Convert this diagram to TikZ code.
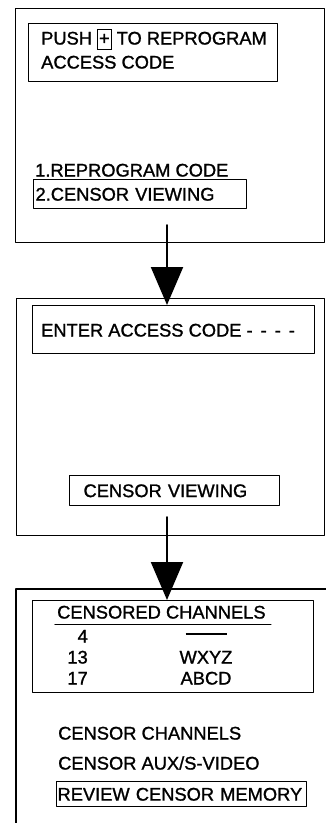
\documentclass[tikz,border=0pt]{standalone}
\usepackage{fontspec}
\setmainfont{Liberation Sans}[BoldFont={Liberation Sans}, BoldFeatures={FakeBold=1.2}]
\usetikzlibrary{arrows.meta}
\newcommand{\pluskey}{{\setlength{\fboxsep}{1pt}\setlength{\fboxrule}{0.9pt}\fbox{\rule[-3pt]{0pt}{17pt}+}}}
\begin{document}
\begin{tikzpicture}[line cap=round,line join=round,x=1pt,y=-1pt,
  txt/.style={font=\fontsize{18.3}{22}\selectfont\bfseries, inner sep=0pt, text height=13.1pt, text depth=0pt},
  frame/.style={draw, line width=1.4pt, inner sep=0pt, anchor=north west},
  field/.style={draw, line width=1.1pt, inner sep=0pt, anchor=north west},
  flow/.style={line width=2pt, -{Triangle[width=32pt,length=38pt]}}]
\useasboundingbox (0,0) rectangle (326,823);
% Ecran 1
\node[frame, minimum width=309pt, minimum height=234pt] (scr1) at (15,8) {};
\node[field, minimum width=249pt, minimum height=58pt] (msg1) at (28,23) {};
\node[txt, anchor=west] (push) at (41,38) {PUSH \pluskey{} TO REPROGRAM};
\node[txt, anchor=west] (acc) at (41,62) {ACCESS CODE};
\node[txt, anchor=west] (opt1) at (35,170) {1.REPROGRAM CODE};
\node[field, txt, minimum width=213pt, minimum height=29pt, inner xsep=2pt, text width=209pt] (opt2) at (33,179) {2.CENSOR VIEWING};
% Ecran 2
\node[frame, minimum width=308pt, minimum height=237pt] (scr2) at (16,298) {};
\node[field, minimum width=282pt, minimum height=48pt] (msg2) at (32,305) {};
\node[txt, anchor=west] (enter) at (41,330) {ENTER ACCESS CODE -\hspace{8pt}-\hspace{8pt}-\hspace{8pt}-};
\node[field, txt, minimum width=210pt, minimum height=30pt, inner xsep=14pt, text width=182pt] (view) at (69,475) {CENSOR VIEWING};
% Ecran 3
\draw[line width=1.4pt] (326,589) -- (16,589) -- (16,823);
\node[field, minimum width=281pt, minimum height=92pt] (chan) at (32,600) {};
\node[txt, anchor=west] (hdr) at (57,612) {CENSORED CHANNELS};
\draw[line width=1.3pt] ([xshift=-2pt,yshift=-5.5pt]hdr.south west) -- ([xshift=5pt,yshift=-5.5pt]hdr.south east);
\node[txt, anchor=east] (ch4) at (88,636) {4};
\node[txt] (nm4) at (206,636) {\rule[8pt]{41pt}{1.5pt}};
\node[txt, anchor=east] (ch13) at (88,657) {13};
\node[txt] (nm13) at (206,657) {WXYZ};
\node[txt, anchor=east] (ch17) at (88,678) {17};
\node[txt] (nm17) at (206,678) {ABCD};
\node[txt, anchor=west] (menu1) at (58,733) {CENSOR CHANNELS};
\node[txt, anchor=west] (menu2) at (58,763) {CENSOR AUX/S-VIDEO};
\node[field, txt, minimum width=250pt, minimum height=25pt, inner xsep=1pt, text width=248pt] (menu3) at (56,781) {REVIEW CENSOR MEMORY};
% Fleches
\coordinate (out1) at (167,225);
\draw[flow] (out1) -- (out1 |- msg2.north);
\coordinate (out2) at (167,517);
\draw[flow] (out2) -- (out2 |- chan.north);
\end{tikzpicture}
\end{document}
